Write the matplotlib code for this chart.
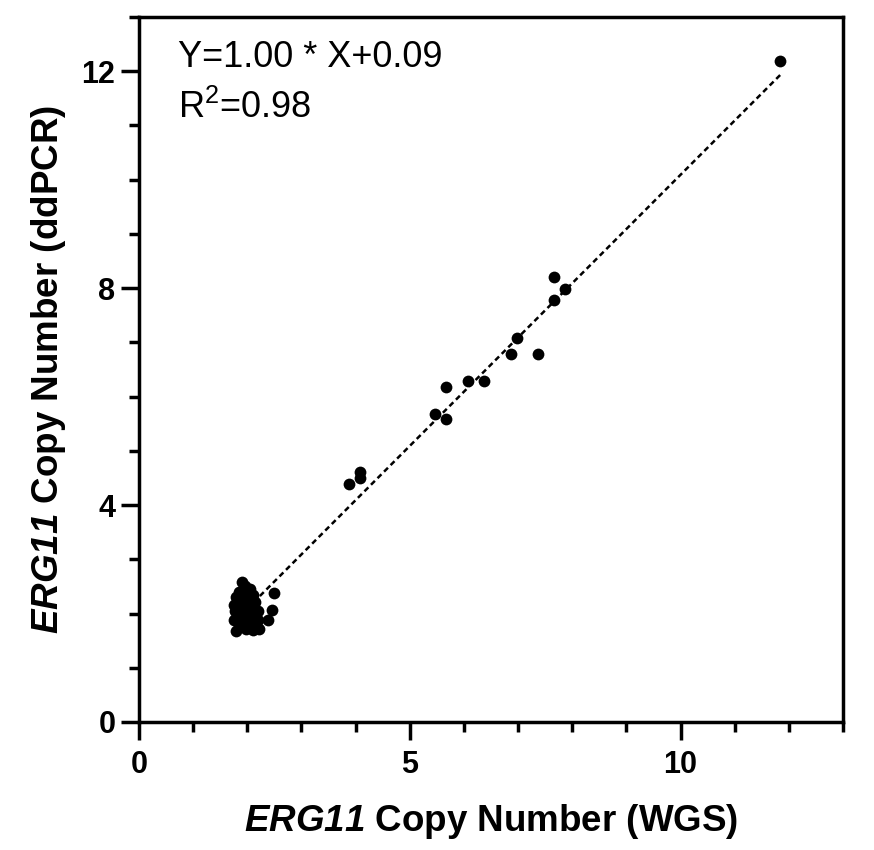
import matplotlib
matplotlib.use("Agg")
import matplotlib.pyplot as plt
import numpy as np
from matplotlib.ticker import MultipleLocator

plt.rcParams['font.family'] = ['Liberation Sans', 'DejaVu Sans']
plt.rcParams['mathtext.fontset'] = 'custom'
plt.rcParams['mathtext.rm'] = 'Liberation Sans'
plt.rcParams['mathtext.it'] = 'Liberation Sans:italic'
plt.rcParams['mathtext.bf'] = 'Liberation Sans:bold'
plt.rcParams['mathtext.bfit'] = 'Liberation Sans:italic:bold'

# WGS (x) vs ddPCR (y) copy numbers
wgs = [1.90, 1.95, 2.05, 1.85, 2.00, 2.10, 1.80, 1.95, 2.05, 2.15, 1.75, 1.88,
       2.00, 2.12, 2.20, 1.78, 1.92, 2.05, 2.15, 1.82, 1.95, 2.08, 2.20, 1.75,
       1.88, 2.00, 2.12, 1.85, 1.98, 2.10, 2.22, 1.80, 2.05, 1.90,
       2.49, 2.45, 2.39,
       3.87, 4.09, 4.09, 5.47, 5.67, 5.67, 6.08, 6.37, 6.87, 6.98, 7.37,
       7.66, 7.66, 7.86, 11.84]
ddpcr = [2.58, 2.50, 2.45, 2.40, 2.38, 2.35, 2.30, 2.28, 2.25, 2.22, 2.15, 2.15,
         2.12, 2.10, 2.05, 2.05, 2.02, 2.00, 1.98, 1.95, 1.92, 1.90, 1.88, 1.88,
         1.85, 1.82, 1.80, 1.75, 1.72, 1.70, 1.72, 1.68, 2.20, 2.08,
         2.38, 2.06, 1.88,
         4.39, 4.61, 4.50, 5.68, 6.18, 5.59, 6.29, 6.29, 6.78, 7.08, 6.78,
         8.20, 7.78, 7.98, 12.18]
slope = 1.00
intercept = 0.09
r2 = 0.98

fig = plt.figure(figsize=(8.74, 8.5), dpi=100)
ax = fig.add_axes([0.159, 0.1506, 0.8055, 0.8294])

x = np.array(wgs)
y = np.array(ddpcr)
xl = np.array([x.min(), x.max()])
ax.plot(xl, slope * xl + intercept, ls=(0, (2.2, 1.5)), color='black', lw=1.8, zorder=2)
ax.scatter(x, y, s=72, color='black', zorder=3, linewidths=0)

ax.set_xlim(0, 13)
ax.set_ylim(0, 13)
ax.xaxis.set_major_locator(MultipleLocator(5))
ax.xaxis.set_minor_locator(MultipleLocator(1))
ax.yaxis.set_major_locator(MultipleLocator(4))
ax.yaxis.set_minor_locator(MultipleLocator(1))
for s in ax.spines.values():
    s.set_linewidth(2.5)
ax.tick_params(which='major', length=13, width=2.5, labelsize=22, pad=4)
ax.tick_params(axis='x', which='major', pad=7)
ax.tick_params(which='minor', length=7.5, width=2.5)
for lab in ax.get_xticklabels() + ax.get_yticklabels():
    lab.set_fontweight('bold')

ax.set_xlabel(r'$\mathbfit{ERG11}$ Copy Number (WGS)', fontsize=26.5, fontweight='bold', labelpad=16)
ax.set_ylabel(r'$\mathbfit{ERG11}$ Copy Number (ddPCR)', fontsize=26.5, fontweight='bold', labelpad=10)

ax.text(0.72, 12.25, f'Y={slope:.2f} * X+{intercept:.2f}', fontsize=26, va='center', ha='left')
ax.text(0.72, 11.33, r'R$^2$=' + f'{r2:.2f}', fontsize=26, va='center', ha='left')

fig.savefig('out.png', dpi=100)
